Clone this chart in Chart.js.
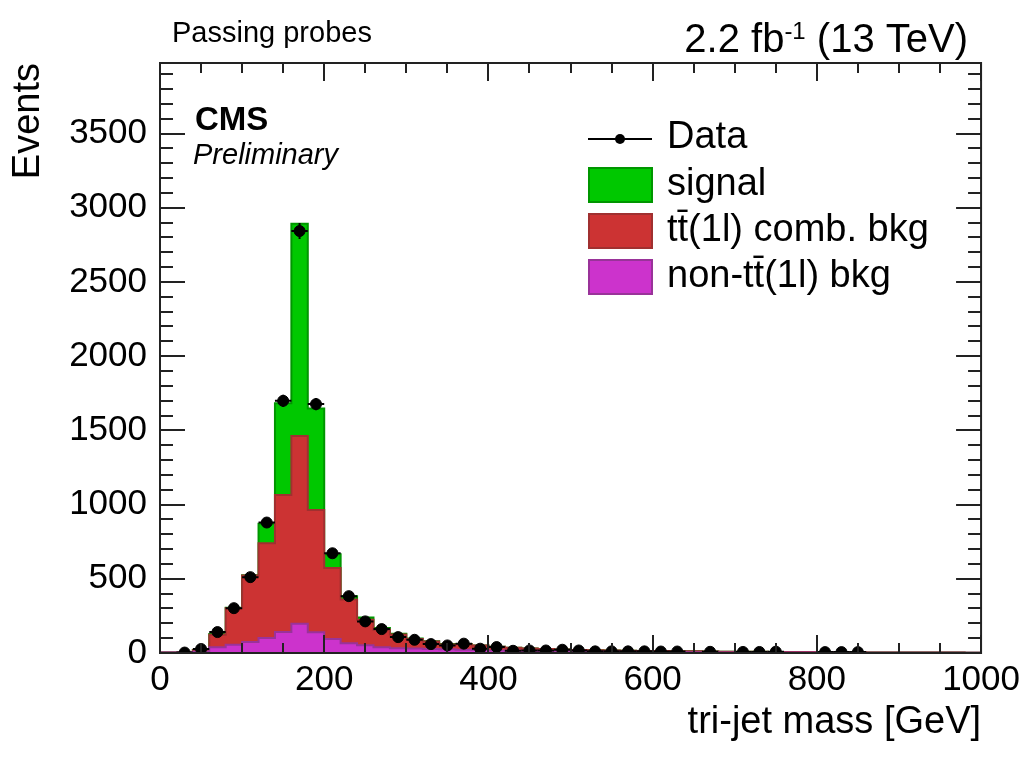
<!DOCTYPE html>
<html>
<head>
<meta charset="utf-8">
<script src="https://cdn.jsdelivr.net/npm/chart.js@4.4.1/dist/chart.umd.min.js"></script>
<style>
html, body { margin: 0; padding: 0; background: #fff; }
canvas { display: block; }
</style>
</head>
<body>
<canvas id="c" width="1026" height="758"></canvas>
<script>
// tri-jet mass bins, 20 GeV wide
var binLow = [0, 20, 40, 60, 80, 100, 120, 140, 160, 180, 200, 220, 240, 260, 280, 300, 320, 340, 360, 380,
  400, 420, 440, 460, 480, 500, 520, 540, 560, 580, 600, 620, 640, 660, 680, 700, 720, 740, 760, 780,
  800, 820, 840, 860, 880, 900, 920, 940, 960, 980];
var binWidth = 20;

var dataCounts = [null, 3, 27, 141, 302, 511, 879, 1699, 2843, 1677, 672, 383, 213, 161, 107, 89, 60, 51, 63, 29,
  40, 15, 17, 17, 22, 17, 11, 11, 11, 11, 10, 10, null, 8, null, 7, 7, 9, null, null,
  6, 6, 6, null, null, null, null, null, null, null];

var signal = [0, 0, 2, 5, 3, 2, 130, 617, 1430, 684, 93, 23, 16, 11, 4, 3, 2, 2, 1, 1,
  0, 0, 0, 0, 0, 0, 0, 0, 0, 0, 0, 0, 0, 0, 0, 0, 0, 0, 0, 0,
  0, 0, 0, 0, 0, 0, 0, 0, 0, 0];
var ttComb = [0, 0, 10, 85, 246, 448, 639, 924, 1265, 825, 478, 295, 172, 119, 93, 64, 50, 33, 36, 30,
  25, 20, 17, 15, 13, 11, 10, 9, 8, 7, 7, 6, 6, 5, 5, 4, 4, 4, 4, 3,
  3, 3, 3, 2, 2, 2, 2, 2, 2, 1];
var nonTT = [3, 3, 8, 38, 56, 74, 101, 141, 197, 139, 94, 65, 52, 38, 32, 30, 27, 25, 22, 20,
  17, 15, 13, 12, 11, 10, 9, 8, 7, 7, 6, 6, 5, 5, 4, 4, 4, 3, 3, 3,
  3, 2, 2, 2, 2, 2, 2, 1, 1, 1];

var xTicks = [0, 200, 400, 600, 800, 1000];
var yTicks = [0, 500, 1000, 1500, 2000, 2500, 3000, 3500];
var xMax = 1000;
var yMax = 3975;

var FONT = "'Liberation Sans', Arial, Helvetica, sans-serif";

// stack: non-tt at bottom, then tt comb, then signal
var redTop = nonTT.map(function(v, i){ return v + ttComb[i]; });
var greenTop = redTop.map(function(v, i){ return v + signal[i]; });

function steps(vals) {
  var pts = [];
  for (var i = 0; i < vals.length; i++) pts.push({x: binLow[i], y: vals[i]});
  pts.push({x: binLow[vals.length - 1] + binWidth, y: vals[vals.length - 1]});
  return pts;
}

var dataPoints = [];
for (var i = 0; i < dataCounts.length; i++) {
  if (dataCounts[i] !== null) dataPoints.push({x: binLow[i] + binWidth / 2, y: dataCounts[i]});
}

var errorBars = {
  id: 'errorBars',
  afterDatasetsDraw: function(chart) {
    var ctx = chart.ctx, xs = chart.scales.x, ys = chart.scales.y;
    ctx.save();
    ctx.strokeStyle = '#000';
    ctx.lineWidth = 2;
    for (var i = 0; i < dataCounts.length; i++) {
      var v = dataCounts[i];
      if (v === null) continue;
      var e = Math.sqrt(v);
      var py = ys.getPixelForValue(v);
      ctx.beginPath();
      ctx.moveTo(xs.getPixelForValue(binLow[i]), py);
      ctx.lineTo(xs.getPixelForValue(binLow[i] + binWidth), py);
      ctx.moveTo(xs.getPixelForValue(binLow[i] + binWidth / 2), ys.getPixelForValue(v - e));
      ctx.lineTo(xs.getPixelForValue(binLow[i] + binWidth / 2), ys.getPixelForValue(v + e));
      ctx.stroke();
    }
    ctx.restore();
  }
};

var frame = {
  id: 'frame',
  afterDatasetsDraw: function(chart) {
    var ctx = chart.ctx, a = chart.chartArea, xs = chart.scales.x, ys = chart.scales.y;
    ctx.save();
    ctx.strokeStyle = '#222';
    ctx.lineWidth = 2;
    ctx.beginPath();
    var v, p, len;
    for (v = 0; v <= xMax; v += 50) {
      p = Math.round(xs.getPixelForValue(v));
      len = v % 200 === 0 ? 18 : 10;
      ctx.moveTo(p, a.bottom); ctx.lineTo(p, a.bottom - len);
      ctx.moveTo(p, a.top); ctx.lineTo(p, a.top + len);
    }
    for (v = 0; v <= yMax; v += 100) {
      p = Math.round(ys.getPixelForValue(v));
      len = v % 500 === 0 ? 25 : 13;
      ctx.moveTo(a.left, p); ctx.lineTo(a.left + len, p);
      ctx.moveTo(a.right, p); ctx.lineTo(a.right - len, p);
    }
    ctx.stroke();
    ctx.strokeRect(a.left, a.top, a.right - a.left, a.bottom - a.top);
    ctx.restore();
  }
};

var legendItems = [
  {label: 'signal', fill: '#00c800', border: '#009600'},
  {label: 'tt\u0304(1l) comb. bkg', fill: '#cc3333', border: '#a03030'},
  {label: 'non-tt\u0304(1l) bkg', fill: '#cc33cc', border: '#993399'}
];

var texts = {
  id: 'texts',
  afterDraw: function(chart) {
    var ctx = chart.ctx;
    ctx.save();
    ctx.fillStyle = '#000';
    ctx.textBaseline = 'alphabetic';
    ctx.textAlign = 'left';

    ctx.font = '29px ' + FONT;
    ctx.fillText('Passing probes', 172, 42);

    // 2.2 fb^-1 (13 TeV), right aligned
    ctx.font = '40px ' + FONT;
    var w1 = ctx.measureText('2.2 fb').width;
    var w3 = ctx.measureText(' (13 TeV)').width;
    ctx.font = '24px ' + FONT;
    var w2 = ctx.measureText('-1').width;
    var x0 = 968 - (w1 + w2 + w3);
    ctx.font = '40px ' + FONT;
    ctx.fillText('2.2 fb', x0, 52);
    ctx.fillText(' (13 TeV)', x0 + w1 + w2, 52);
    ctx.font = '24px ' + FONT;
    ctx.fillText('-1', x0 + w1, 39);

    ctx.font = 'bold 33px ' + FONT;
    ctx.fillText('CMS', 195, 130);
    ctx.font = 'italic 29px ' + FONT;
    ctx.fillText('Preliminary', 193, 164);

    // legend
    ctx.strokeStyle = '#000';
    ctx.lineWidth = 2;
    ctx.beginPath();
    ctx.moveTo(588, 139); ctx.lineTo(652, 139);
    ctx.stroke();
    ctx.beginPath();
    ctx.arc(620, 139, 5, 0, Math.PI * 2);
    ctx.fill();
    ctx.font = '38px ' + FONT;
    ctx.fillText('Data', 667, 148);

    var boxTop = [168, 214, 260];
    for (var k = 0; k < legendItems.length; k++) {
      var it = legendItems[k];
      ctx.fillStyle = it.fill;
      ctx.fillRect(589, boxTop[k], 63, 34);
      ctx.strokeStyle = it.border;
      ctx.strokeRect(589, boxTop[k], 63, 34);
      ctx.fillStyle = '#000';
      ctx.fillText(it.label, 667, boxTop[k] + 27);
    }
    ctx.restore();
  }
};

function histDataset(vals, fill, border, order) {
  return {
    type: 'line',
    data: steps(vals),
    stepped: 'before',
    backgroundColor: fill,
    borderColor: border,
    borderWidth: 2,
    pointRadius: 0,
    fill: 'origin',
    order: order
  };
}

new Chart(document.getElementById('c'), {
  type: 'line',
  data: {
    datasets: [
      {
        type: 'line',
        data: dataPoints,
        showLine: false,
        pointRadius: 5.5,
        pointBackgroundColor: '#000',
        pointBorderColor: '#000',
        pointBorderWidth: 1,
        order: 0
      },
      histDataset(nonTT, '#cc33cc', '#993399', 1),
      histDataset(redTop, '#cc3333', '#a03030', 2),
      histDataset(greenTop, '#00c800', '#009600', 3)
    ]
  },
  options: {
    responsive: false,
    animation: false,
    events: [],
    layout: { padding: { top: 63, right: 44, left: 0, bottom: 0 } },
    plugins: { legend: { display: false }, tooltip: { enabled: false } },
    scales: {
      x: {
        type: 'linear',
        min: 0,
        max: xMax,
        grid: { display: false, drawTicks: false },
        border: { display: false },
        afterBuildTicks: function(s) { s.ticks = xTicks.map(function(v){ return {value: v}; }); },
        ticks: { padding: 6, color: '#000', maxRotation: 0, autoSkip: false,
                 callback: function(v) { return String(v); },
                 font: { family: FONT, size: 35 } },
        title: { display: true, text: 'tri-jet mass [GeV]', align: 'end', color: '#000',
                 font: { family: FONT, size: 38 }, padding: { top: 0, bottom: 13 } },
        afterFit: function(s) { s.height = 105; }
      },
      y: {
        min: 0,
        max: yMax,
        grid: { display: false, drawTicks: false },
        border: { display: false },
        afterBuildTicks: function(s) { s.ticks = yTicks.map(function(v){ return {value: v}; }); },
        ticks: { padding: 13, color: '#000', autoSkip: false,
                 callback: function(v) { return String(v); },
                 font: { family: FONT, size: 35 } },
        title: { display: true, text: 'Events', align: 'end', color: '#000',
                 font: { family: FONT, size: 38 }, padding: { top: 6, bottom: 0 } },
        afterFit: function(s) { s.width = 160; }
      }
    }
  },
  plugins: [errorBars, frame, texts]
});
</script>
</body>
</html>
